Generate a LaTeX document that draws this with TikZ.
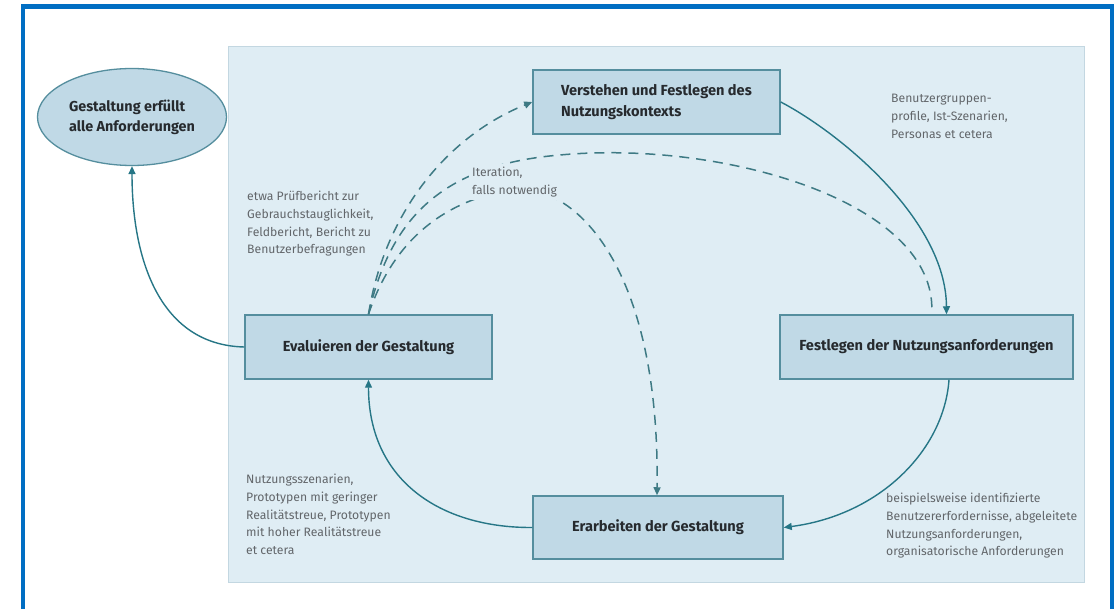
\documentclass[tikz,border=0pt]{standalone}
\usepackage{fontspec}
\setmainfont{Fira Sans}
\usetikzlibrary{arrows.meta,shapes.geometric,calc}
\definecolor{frameblue}{RGB}{0,110,195}
\definecolor{panelfill}{RGB}{223,237,244}
\definecolor{panelline}{RGB}{195,215,225}
\definecolor{boxfill}{RGB}{192,217,230}
\definecolor{boxline}{RGB}{85,142,158}
\definecolor{arrowc}{RGB}{38,118,134}
\definecolor{dashc}{RGB}{62,122,132}
\definecolor{txtdark}{RGB}{38,42,46}
\definecolor{txtgray}{RGB}{98,102,106}
\tikzset{
  stepbox/.style={draw=boxline, line width=1.5pt, fill=boxfill, text=txtdark,
    font=\fontsize{14.6}{20.5}\selectfont\bfseries, align=left, inner sep=0pt},
  goalell/.style={ellipse, draw=boxline, line width=1.3pt, fill=boxfill, text=txtdark,
    font=\fontsize{14.4}{20}\selectfont\bfseries, align=left, inner sep=0pt},
  note/.style={anchor=north west, align=left, inner sep=0pt, text=txtgray,
    font=\fontsize{12.2}{17.7}\selectfont},
  flow/.style={draw=arrowc, line width=1.4pt, -{Triangle[length=8pt,width=7pt]}},
  iter/.style={draw=dashc, line width=1.5pt, dash pattern=on 10pt off 7pt},
  itertip/.style={-{Triangle[length=8pt,width=7pt]}},
}
\begin{document}
\begin{tikzpicture}[x=1pt,y=-1pt]
\useasboundingbox (0,0) rectangle (1117,609);
\fill[white] (0,0) rectangle (1117,609);
% panel
\draw[panelline, fill=panelfill, line width=0.8pt] (228,46) rectangle (1084,582);
% frame
\draw[frameblue, line width=4.5pt] (23,612) -- (23,6.5) -- (1112,6.5) -- (1112,612);

% nodes
\node[stepbox, minimum width=247pt, minimum height=64pt] (ctx) at (656.5,102)
  {Verstehen und Festlegen des\\Nutzungskontexts};
\node[stepbox, minimum width=293pt, minimum height=64pt] (req) at (926.5,347)
  {Festlegen der Nutzungsanforderungen};
\node[stepbox, minimum width=250pt, minimum height=63pt] (des) at (658,527.5)
  {Erarbeiten der Gestaltung};
\node[stepbox, minimum width=247pt, minimum height=64pt] (eval) at (368.5,347)
  {Evaluieren der Gestaltung};
\node[goalell, minimum width=189pt, minimum height=97pt] (goal) at (132,117)
  {Gestaltung erfüllt\\alle Anforderungen};

% notes
\node[note] (n1) at (891,94) {Benutzergruppen-\\profile, Ist-Szenarien,\\Personas et cetera};
\node[note] (n2) at (247,191) {etwa Prüfbericht zur\\Gebrauchstauglichkeit,\\Feldbericht, Bericht zu\\Benutzerbefragungen};
\node[note] (n4) at (246,474) {Nutzungsszenarien,\\Prototypen mit geringer\\Realitätstreue, Prototypen\\mit hoher Realitätstreue\\et cetera};
\node[note] (n5) at (886,493) {beispielsweise identifizierte\\Benutzererfordernisse, abgeleitete\\Nutzungsanforderungen,\\organisatorische Anforderungen};

% solid flow
\draw[flow] (ctx.east) .. controls (840,133) and (946,220) .. ([xshift=20pt]req.north);
\draw[flow] ([xshift=22.5pt]req.south) .. controls (944,450) and (880,515) .. (des.east);
\draw[flow] (des.west) .. controls (440,528) and (368.5,480) .. (eval.south);
\draw[flow] (eval.west) .. controls (160,345) and (132,260) .. (goal.south);

% iteration (dashed)
\draw[iter, itertip] (eval.north) .. controls (385,210) and (450,135) .. (ctx.west);
\draw[iter, shorten >=7pt] (eval.north) .. controls (390,220) and (440,165) .. (560,155)
  .. controls (720,140) and (930,200) .. ([xshift=5.5pt]req.north);
\draw[iter, itertip] (eval.north) .. controls (395,235) and (450,200) .. (510,190)
  .. controls (570,180) and (660,260) .. ([xshift=-1pt]des.north);

\node[note, fill=panelfill, inner sep=3pt] (n3) at (469,164) {Iteration,\\falls notwendig};
\end{tikzpicture}
\end{document}
